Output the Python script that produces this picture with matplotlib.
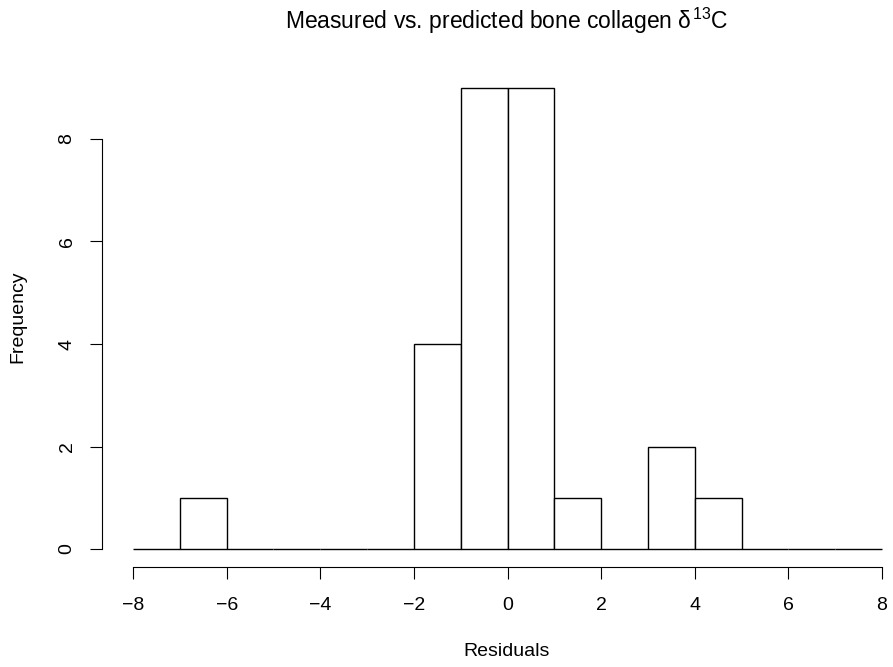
import numpy as np
import matplotlib.pyplot as plt

plt.rcParams['font.family'] = ['Liberation Sans', 'DejaVu Sans']
plt.rcParams['mathtext.fontset'] = 'custom'
plt.rcParams['mathtext.rm'] = 'Liberation Sans'
plt.rcParams['mathtext.it'] = 'Liberation Sans'

# histogram of residuals, breaks -8..8 by 1
breaks = np.arange(-8, 9, 1)
counts = [0, 1, 0, 0, 0, 0, 4, 9, 9, 1, 0, 2, 1, 0, 0, 0]

fig = plt.figure(figsize=(8.93, 6.67), dpi=100)
W, H = 893, 667
# axes in pixel coords: x -8 at 133, 8 at 882; y 0 at 549, 8 at 139
xpx = (882 - 133) / 16
ypx = (549 - 139) / 8
left, right = 102, 893
bottom, top = 549 + 0.36 * ypx, 549 - 9.36 * ypx
ax = fig.add_axes([left / W, 1 - bottom / H, (right - left) / W, (bottom - top) / H])
ax.set_xlim(-8 - (133 - left) / xpx, 8 + (right - 882) / xpx)
ax.set_ylim(-0.36, 9.36)

ax.bar(breaks[:-1], counts, width=1, align='edge', facecolor='white',
       edgecolor='black', linewidth=1)

for s in ['top', 'right']:
    ax.spines[s].set_visible(False)
ax.spines['bottom'].set_bounds(-8, 8)
ax.spines['left'].set_bounds(0, 8)
ax.set_xticks(np.arange(-8, 9, 2))
ax.set_yticks([0, 2, 4, 6, 8])
ax.tick_params(direction='out', length=8.5, width=0.8, labelsize=14)
ax.tick_params(axis='x', pad=13)
ax.tick_params(axis='y', pad=10.5)
for lab in ax.get_yticklabels():
    lab.set_rotation(90)
    lab.set_va('center')

fig.text(18 / W, 1 - 317 / H, 'Frequency', rotation=90, ha='center', va='center', fontsize=14)
fig.text(507 / W, 1 - 652 / H, 'Residuals', ha='center', va='center', fontsize=14)
fig.text(507 / W, 1 - 21 / H, r'Measured vs. predicted bone collagen $\delta^{13}$C',
         ha='center', va='center', fontsize=16.5)

fig.savefig('out.png', dpi=100)
